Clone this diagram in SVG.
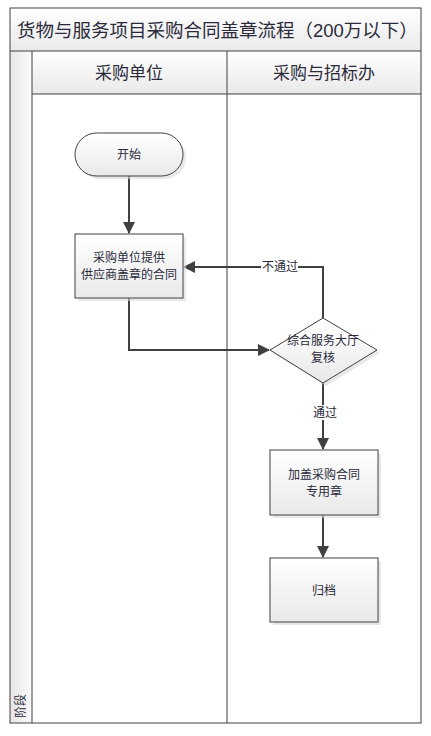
<svg xmlns="http://www.w3.org/2000/svg" width="431" height="736" viewBox="0 0 431 736">
<defs>
<linearGradient id="g" x1="0" y1="0" x2="0" y2="1"><stop offset="0" stop-color="#ffffff"/><stop offset="1" stop-color="#e9e9e9"/></linearGradient>
<linearGradient id="gh" x1="0" y1="0" x2="1" y2="0"><stop offset="0" stop-color="#e6e6e6"/><stop offset="1" stop-color="#fafafa"/></linearGradient>
<marker id="a" markerWidth="12" markerHeight="12" refX="11" refY="6" orient="auto" markerUnits="userSpaceOnUse"><path d="M0,0 L12,6 L0,12 Z" fill="#404040"/></marker>
<style>
text{font-family:"Liberation Sans","Noto Sans CJK SC",sans-serif;fill:#2a2a3a;text-anchor:middle}
.t{font-size:18.5px;text-anchor:start}
.h{font-size:17px}
.n{font-size:12px}
.l{font-size:12px}
.frame{fill:none;stroke:#404040;stroke-width:1}
.node{fill:url(#g);stroke:#404040;stroke-width:1}
.sh{fill:#d8d8d8;opacity:0.6}
.c{fill:none;stroke:#404040;stroke-width:2}
</style>
</defs>
<g id="frame">
<rect x="10" y="8" width="411" height="715" fill="#fff"/>
<rect x="10" y="8" width="411" height="43" fill="url(#g)"/>
<rect x="32" y="51" width="389" height="43" fill="url(#g)"/>
<rect x="10" y="51" width="22" height="672" fill="url(#gh)"/>
<rect x="10" y="8" width="411" height="715" class="frame"/>
<line x1="10" y1="51" x2="421" y2="51" class="frame"/>
<line x1="32" y1="51" x2="32" y2="723" class="frame"/>
<line x1="32" y1="94" x2="421" y2="94" class="frame"/>
<line x1="227" y1="51" x2="227" y2="723" class="frame"/>
<text x="17" y="37" class="t">货物与服务项目采购合同盖章流程（200万以下）</text>
<text x="129" y="79" class="h">采购单位</text>
<text x="324" y="79" class="h">采购与招标办</text>
<text transform="translate(25,706) rotate(-90)" class="n">阶段</text>
</g>
<g id="connectors">
<line x1="129" y1="176" x2="129" y2="233" class="c" marker-end="url(#a)"/>
<polyline points="129,298 129,350 269,350" class="c" marker-end="url(#a)"/>
<polyline points="323,318 323,267 184,267" class="c" marker-end="url(#a)"/>
<rect x="261" y="259" width="37" height="15" fill="#fff"/>
<text x="280" y="271" class="l">不通过</text>
<line x1="323" y1="383" x2="323" y2="449" class="c" marker-end="url(#a)"/>
<rect x="312" y="405" width="26" height="15" fill="#fff"/>
<text x="325" y="417" class="l">通过</text>
<line x1="323" y1="515" x2="323" y2="557" class="c" marker-end="url(#a)"/>
</g>
<g id="start">
<rect x="78" y="136" width="108" height="43" rx="21.5" class="sh"/>
<rect x="75" y="133" width="108" height="43" rx="21.5" class="node"/>
<text x="129" y="159" class="n">开始</text>
</g>
<g id="provide">
<rect x="78" y="237" width="108" height="64" class="sh"/>
<rect x="75" y="234" width="108" height="64" class="node"/>
<text x="129" y="262" class="n">采购单位提供</text>
<text x="129" y="279" class="n">供应商盖章的合同</text>
</g>
<g id="review">
<polygon points="326,321 380,353 326,386 273,353" class="sh"/>
<polygon points="323,318 377,350 323,383 270,350" class="node"/>
<text x="323" y="345" class="n">综合服务大厅</text>
<text x="323" y="362" class="n">复核</text>
</g>
<g id="stamp">
<rect x="273" y="453" width="108" height="65" class="sh"/>
<rect x="270" y="450" width="108" height="65" class="node"/>
<text x="324" y="479" class="n">加盖采购合同</text>
<text x="324" y="496" class="n">专用章</text>
</g>
<g id="archive">
<rect x="273" y="561" width="108" height="64" class="sh"/>
<rect x="270" y="558" width="108" height="64" class="node"/>
<text x="324" y="595" class="n">归档</text>
</g>
</svg>
